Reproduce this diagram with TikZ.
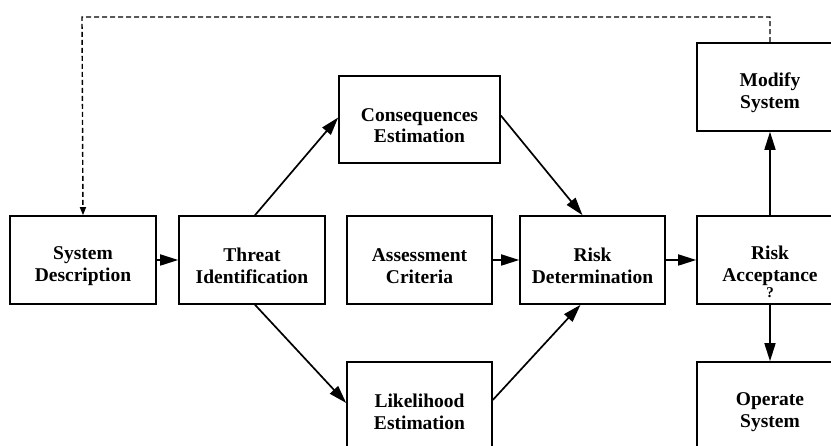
\documentclass[tikz,border=0pt]{standalone}
\usepackage{fontspec}
\setmainfont{Liberation Serif}
\usetikzlibrary{arrows.meta}
\newcommand\myrs{\rule{0pt}{25pt}}
\begin{document}
\begin{tikzpicture}[x=1pt,y=1pt,
  box/.style={draw, line width=1.6pt, minimum width=146pt, minimum height=88pt, inner sep=0pt, align=center,
    font=\fontsize{19.5}{21.5}\selectfont\bfseries},
  lbl/.style={inner sep=0pt, font=\fontsize{15}{17}\selectfont\bfseries},
  arr/.style={line width=1.7pt, -{Triangle[length=18pt,width=11pt]}},
  fb/.style={line width=1.4pt, dash pattern=on 5pt off 3pt, -{Triangle[length=8pt,width=6pt]}}
]
\useasboundingbox (0,0) rectangle (831,446);
\clip (0,0) rectangle (831,446);
\node[box] (sd) at (83,186) {\myrs System\\Description};
\node[box] (ti) at (252,186) {\myrs Threat\\Identification};
\node[box, minimum width=145pt] (ac) at (419.5,186) {\myrs Assessment\\Criteria};
\node[box, minimum width=145pt] (rd) at (592.5,186) {\myrs Risk\\Determination};
\node[box] (ra) at (770,186) {\myrs Risk\\Acceptance};
\node[lbl] (raq) at (770,153) {?};
\node[box, minimum width=161pt, minimum height=87pt] (ce) at (419.5,326.5) {\myrs Consequences\\Estimation};
\node[box, minimum width=145pt] (li) at (419.5,40) {\myrs Likelihood\\Estimation};
\node[box] (mo) at (770,359) {\myrs Modify\\System};
\node[box] (op) at (770,40) {\myrs Operate\\System};
\coordinate (c1) at (770,429);
\coordinate (c2) at (82,429);
\draw[arr] (sd.east) -- (ti.west);
\draw[arr] ([xshift=3pt]ti.north) -- ([yshift=2pt]ce.west);
\draw[arr] ([yshift=4pt]ce.east) -- ([xshift=-10pt]rd.north);
\draw[arr] ([xshift=3pt]ti.south) -- ([yshift=3pt]li.west);
\draw[arr] ([yshift=6pt]li.east) -- ([xshift=-12pt]rd.south);
\draw[arr] (ac.east) -- (rd.west);
\draw[arr] (rd.east) -- (ra.west);
\draw[arr] (ra.south) -- (op.north);
\draw[arr] (ra.north) -- (mo.south);
\draw[fb] (mo.north) -- (c1) -- (c2) -- (sd.north);
\end{tikzpicture}
\end{document}
